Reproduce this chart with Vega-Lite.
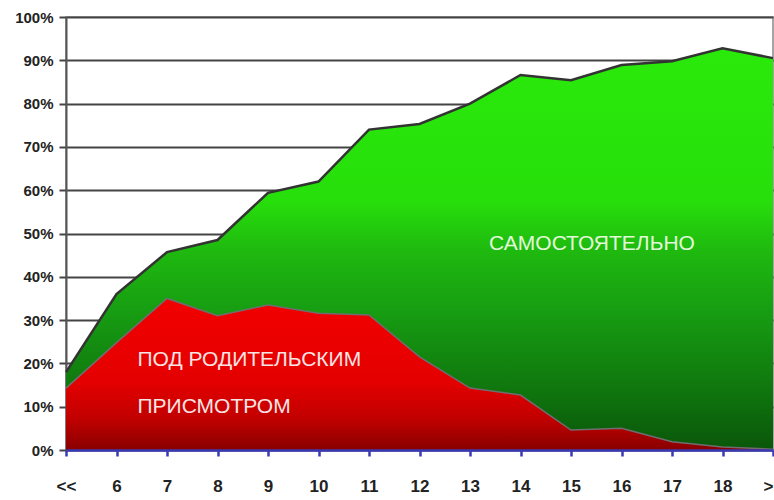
{
  "$schema": "https://vega.github.io/schema/vega-lite/v6.json",
  "autosize": {"type": "none"},
  "width": 707,
  "height": 433,
  "padding": {"left": 66, "top": 17, "right": 1, "bottom": 50},
  "background": "white",
  "config": {
    "view": {"stroke": "#888888", "strokeWidth": 1.5},
    "font": "Liberation Sans Narrow, Liberation Sans, Arial"
  },
  "datasets": {
    "main": [
      {"age": "<<", "total": 18, "supervised": 14.3},
      {"age": "6", "total": 36, "supervised": 24.8},
      {"age": "7", "total": 45.7, "supervised": 35},
      {"age": "8", "total": 48.5, "supervised": 31},
      {"age": "9", "total": 59.4, "supervised": 33.5},
      {"age": "10", "total": 62, "supervised": 31.6},
      {"age": "11", "total": 74, "supervised": 31.2},
      {"age": "12", "total": 75.3, "supervised": 21.5},
      {"age": "13", "total": 80, "supervised": 14.3},
      {"age": "14", "total": 86.6, "supervised": 12.7},
      {"age": "15", "total": 85.4, "supervised": 4.6},
      {"age": "16", "total": 88.9, "supervised": 5},
      {"age": "17", "total": 89.8, "supervised": 1.9},
      {"age": "18", "total": 92.8, "supervised": 0.7},
      {"age": ">>", "total": 90.5, "supervised": 0.2}
    ],
    "labelGreen": [
      {"age": "15", "y": 47.6, "text": "САМОСТОЯТЕЛЬНО"}
    ],
    "labelRed": [
      {"age": "6", "y": 20.8, "text": "ПОД РОДИТЕЛЬСКИМ"},
      {"age": "6", "y": 9.9, "text": "ПРИСМОТРОМ"}
    ]
  },
  "layer": [
    {
      "data": {"name": "main"},
      "mark": {
        "type": "area",
        "color": {
          "gradient": "linear", "x1": 0, "y1": 0, "x2": 0, "y2": 1,
          "stops": [
            {"offset": 0, "color": "#2AEA0A"},
            {"offset": 0.38, "color": "#27DF0B"},
            {"offset": 0.5, "color": "#1FBA0F"},
            {"offset": 0.65, "color": "#179E12"},
            {"offset": 0.85, "color": "#0F760E"},
            {"offset": 1, "color": "#0A560A"}
          ]
        },
        "opacity": 1,
        "line": {"color": "#333333", "strokeWidth": 2.5}
      },
      "encoding": {
        "x": {
          "field": "age", "type": "ordinal",
          "sort": ["<<", "6", "7", "8", "9", "10", "11", "12", "13", "14", "15", "16", "17", "18", ">>"],
          "scale": {"type": "point", "padding": 0},
          "axis": {
            "title": null, "zindex": 1, "labelAngle": 0,
            "domainColor": "#3A3AB5", "domainWidth": 2.5,
            "tickColor": "#3A3AB5", "tickWidth": 2.5, "tickSize": 6,
            "labelFontSize": 17, "labelFontWeight": "bold", "labelColor": "#222222",
            "labelPadding": 22, "labelFont": "Liberation Sans Narrow, Liberation Sans"
          }
        },
        "y": {
          "field": "total", "type": "quantitative",
          "scale": {"domain": [0, 100], "nice": false},
          "axis": {
            "title": null, "values": [0, 10, 20, 30, 40, 50, 60, 70, 80, 90, 100],
            "labelExpr": "datum.value + '%'",
            "grid": true, "gridColor": "#444444", "gridWidth": 2,
            "domainColor": "#555555", "domainWidth": 2,
            "tickColor": "#444444", "tickWidth": 2, "tickSize": 7,
            "labelFontSize": 15, "labelFontWeight": "bold", "labelColor": "#222222",
            "labelPadding": 6, "labelFont": "Liberation Sans Narrow, Liberation Sans"
          }
        }
      }
    },
    {
      "data": {"name": "main"},
      "mark": {
        "type": "area",
        "color": {
          "gradient": "linear", "x1": 0, "y1": 0, "x2": 0, "y2": 1,
          "stops": [
            {"offset": 0, "color": "#F20000"},
            {"offset": 0.55, "color": "#E40000"},
            {"offset": 0.8, "color": "#C00000"},
            {"offset": 1, "color": "#880000"}
          ]
        },
        "opacity": 1,
        "line": {"color": "#6E6E6E", "strokeWidth": 1.5}
      },
      "encoding": {
        "x": {"field": "age", "type": "ordinal",
          "sort": ["<<", "6", "7", "8", "9", "10", "11", "12", "13", "14", "15", "16", "17", "18", ">>"]},
        "y": {"field": "supervised", "type": "quantitative"}
      }
    },
    {
      "data": {"name": "labelGreen"},
      "mark": {"type": "text", "color": "#E2FADA", "fontSize": 21, "font": "Liberation Sans Narrow, Liberation Sans", "baseline": "middle", "align": "center", "dx": 21},
      "encoding": {
        "x": {"field": "age", "type": "ordinal",
          "sort": ["<<", "6", "7", "8", "9", "10", "11", "12", "13", "14", "15", "16", "17", "18", ">>"]},
        "y": {"field": "y", "type": "quantitative"},
        "text": {"field": "text"}
      }
    },
    {
      "data": {"name": "labelRed"},
      "mark": {"type": "text", "color": "#F8E4E4", "fontSize": 21, "font": "Liberation Sans Narrow, Liberation Sans", "baseline": "middle", "align": "left", "dx": 21},
      "encoding": {
        "x": {"field": "age", "type": "ordinal",
          "sort": ["<<", "6", "7", "8", "9", "10", "11", "12", "13", "14", "15", "16", "17", "18", ">>"]},
        "y": {"field": "y", "type": "quantitative"},
        "text": {"field": "text"}
      }
    }
  ]
}
